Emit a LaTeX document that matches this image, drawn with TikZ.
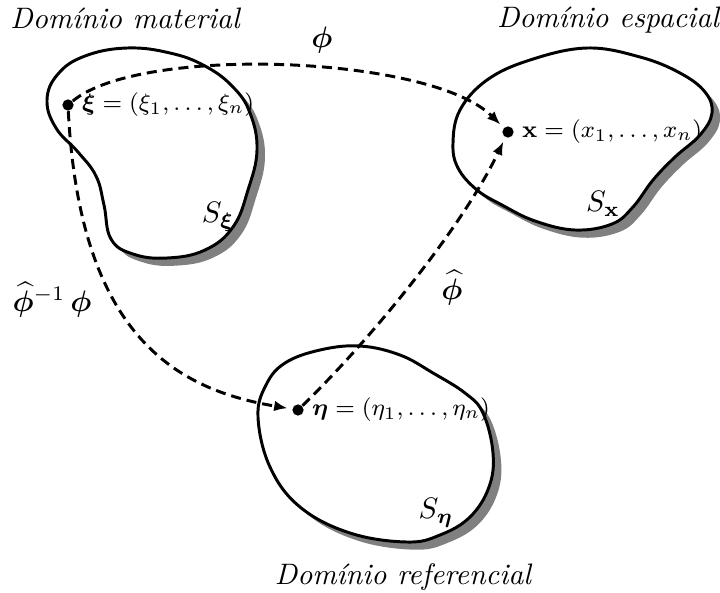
\documentclass[tikz,border=0pt]{standalone}
\usepackage{amsmath, amssymb, bm}
\usetikzlibrary{arrows.meta, positioning, shadows}

\begin{document}
\begin{tikzpicture}[x=0.338pt, y=-0.338pt,
  blob/.style={line width=1pt, fill=white,
    drop shadow={shadow xshift=2.7pt, shadow yshift=-2.6pt, opacity=1, fill=gray}},
  dot/.style={circle, fill, inner sep=0pt, minimum size=3.8pt},
  coord/.style={font=\fontsize{8pt}{10pt}\selectfont, inner sep=2.5pt},
  map/.style={line width=1pt, dash pattern=on 3.4pt off 2pt,
    -{Latex[length=4.5pt,width=3.6pt]}, shorten >=1.5pt},
  title/.style={font=\itshape}]
  \useasboundingbox (0,0) rectangle (720,592);
  % Material domain
  \draw[blob] plot[smooth cycle, tension=0.7] coordinates {(47,100) (58,74) (85,56) (127,48)
    (170,53) (205,66) (233,87) (250,113) (257,150) (248,190) (233,227) (205,250)
    (167,258) (133,254) (111,239) (104,205) (96,176) (78,152) (56,128)};
  % Spatial domain
  \draw[blob] plot[smooth cycle, tension=0.65] coordinates {(453,143) (460,110) (487,80) (530,60)
    (587,48) (640,57) (680,73) (705,92) (712,113) (700,135) (675,157) (653,180)
    (633,207) (612,224) (575,230) (535,221) (502,205) (477,190) (458,168)};
  % Referential domain
  \draw[blob] plot[smooth cycle, tension=0.65] coordinates {(258,417) (266,385) (285,363) (320,350)
    (360,346) (400,355) (433,373) (465,393) (483,413) (493,453) (489,487) (470,517)
    (440,535) (407,542) (350,533) (300,507) (270,467)};
  % Titles
  \node[title] (tmat) at (125,18) {Domínio material};
  \node[title] (tesp) at (608,20) {Domínio espacial};
  \node[title] (tref) at (403,577) {Domínio referencial};
  % Points
  \node[dot] (xi) at (68,105) {};
  \node[coord, right=0pt of xi] (xilab) {$\bm{\xi}=(\xi_1,\ldots,\xi_n)$};
  \node[dot] (x) at (508,132) {};
  \node[coord, right=0pt of x] (xlab) {$\mathbf{x}=(x_1,\ldots,x_n)$};
  \node[dot] (eta) at (298,410) {};
  \node[coord, right=0pt of eta] (etalab) {$\bm{\eta}=(\eta_1,\ldots,\eta_n)$};
  % Boundaries
  \node (sxi) at (218,217) {$S_{\bm{\xi}}$};
  \node (sx) at (603,204) {$S_{\mathbf{x}}$};
  \node (seta) at (436,513) {$S_{\bm{\eta}}$};
  % Maps
  \draw[map] (xi) .. controls (140,45) and (430,55) .. (x);
  \draw[map] (xi) .. controls (80,340) and (180,390) .. (eta);
  \draw[map] (eta) .. controls (370,340) and (462,228) .. (x);
  \node (phi) at (322,40) {$\bm{\phi}$};
  \node (phihat) at (452,288) {$\widehat{\bm{\phi}}$};
  \node (phicomp) at (52,300) {$\widehat{\bm{\phi}}^{-1}\,\bm{\phi}$};
\end{tikzpicture}
\end{document}
